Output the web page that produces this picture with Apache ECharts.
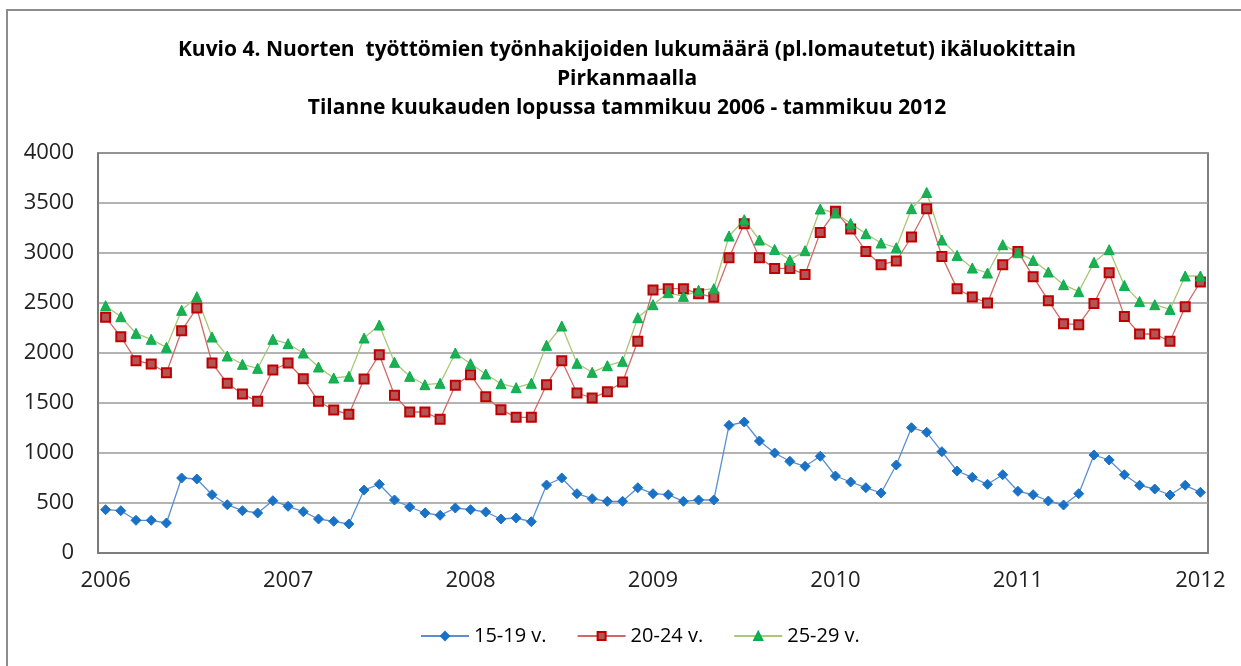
<!DOCTYPE html>
<html>
<head>
<meta charset="utf-8">
<script src="https://cdn.jsdelivr.net/npm/echarts@6/dist/echarts.min.js"></script>
<style>
html,body{margin:0;padding:0;background:#fff;}
#chart{width:1241px;height:666px;}
</style>
</head>
<body>
<div id="chart"></div>
<script>
// Tick labels (shown at each January)
const yearTicks = ['2006','2007','2008','2009','2010','2011','2012'];
// Monthly categories Jan 2006 .. Jan 2012
const months = [];
for (let y = 2006; y <= 2012; y++) {
  for (let m = 1; m <= 12; m++) {
    if (y === 2012 && m > 1) break;
    months.push(y + '-' + (m < 10 ? '0' + m : m));
  }
}
const seriesNames = ['15-19 v.', '20-24 v.', '25-29 v.'];
const age15_19 = [
  433, 423, 327, 327, 300, 750, 740, 583, 483, 423, 400, 523,
  467, 413, 340, 317, 290, 630, 687, 530, 460, 400, 377, 450,
  433, 410, 340, 350, 313, 680, 750, 593, 543, 517, 517, 653,
  593, 583, 517, 530, 530, 1277, 1310, 1120, 1000, 917, 867, 967,
  770, 710, 653, 600, 880, 1253, 1207, 1013, 820, 757, 687, 783,
  617, 583, 520, 480, 593, 980, 930, 783, 677, 640, 580, 677,
  607
];
const age20_24 = [
  2357, 2163, 1923, 1890, 1803, 2223, 2450, 1900, 1697, 1590, 1517, 1830,
  1900, 1743, 1517, 1430, 1387, 1740, 1983, 1577, 1410, 1410, 1337, 1677,
  1783, 1563, 1433, 1357, 1357, 1683, 1923, 1600, 1550, 1613, 1710, 2117,
  2630, 2643, 2643, 2593, 2557, 2953, 3293, 2953, 2846, 2846, 2786, 3206,
  3417, 3240, 3016, 2883, 2920, 3160, 3443, 2966, 2643, 2560, 2500, 2883,
  3016, 2763, 2523, 2293, 2283, 2496, 2803, 2366, 2190, 2190, 2117, 2463,
  2710
];
const age25_29 = [
  2473, 2363, 2197, 2137, 2057, 2427, 2563, 2160, 1970, 1887, 1847, 2137,
  2093, 2000, 1860, 1750, 1767, 2150, 2280, 1907, 1767, 1683, 1697, 2000,
  1893, 1790, 1693, 1653, 1697, 2077, 2270, 1897, 1807, 1873, 1917, 2353,
  2483, 2603, 2567, 2627, 2643, 3170, 3333, 3130, 3036, 2930, 3023, 3440,
  3400, 3296, 3193, 3100, 3053, 3443, 3606, 3130, 2976, 2850, 2800, 3083,
  3003, 2926, 2810, 2683, 2613, 2906, 3033, 2676, 2516, 2483, 2436, 2770,
  2770
];

const font = '"Open Sans", sans-serif';
const chart = echarts.init(document.getElementById('chart'), null, {renderer: 'canvas'});
chart.setOption({
  animation: false,
  backgroundColor: '#fff',
  graphic: [{
    type: 'rect', z: -10, silent: true,
    shape: {x: 7, y: 10, width: 1400, height: 800},
    style: {fill: 'none', stroke: '#8c8c8c', lineWidth: 2}
  }],
  title: {
    text: 'Kuvio 4. Nuorten  työttömien työnhakijoiden lukumäärä (pl.lomautetut) ikäluokittain\nPirkanmaalla\nTilanne kuukauden lopussa tammikuu 2006 - tammikuu 2012',
    left: 622, textAlign: 'center', top: 31,
    textStyle: {fontFamily: font, fontWeight: 'bold', fontSize: 21, lineHeight: 29, color: '#000'}
  },
  grid: {left: 98, right: 33, top: 153, bottom: 113, show: true, borderColor: '#555', borderWidth: 1.5},
  legend: {
    bottom: 15, left: 415, itemGap: 30, itemWidth: 48, itemHeight: 10,
    textStyle: {fontFamily: font, fontSize: 20, color: '#000'},
    data: seriesNames
  },
  xAxis: {
    type: 'category', data: months, boundaryGap: true,
    axisLine: {show: true, lineStyle: {color: '#777', width: 1.5}},
    axisTick: {show: false},
    splitLine: {show: false},
    axisLabel: {
      interval: function (i) { return i % 12 === 0; },
      formatter: function (v, i) { return yearTicks[Math.round(i / 12)] || v.slice(0, 4); },
      fontFamily: font, fontSize: 22, color: '#222', margin: 17
    }
  },
  yAxis: {
    type: 'value', min: 0, max: 4000, interval: 500,
    axisLine: {show: true, lineStyle: {color: '#777', width: 1.5}},
    axisTick: {show: false},
    splitLine: {lineStyle: {color: '#9a9a9a', width: 1.5}},
    axisLabel: {
      formatter: function (v) { return String(v); },
      fontFamily: font, fontSize: 22, color: '#222', margin: 24
    }
  },
  series: [
    {
      name: seriesNames[0], type: 'line', data: age15_19,
      symbol: 'diamond', symbolSize: 10,
      lineStyle: {color: '#5b8fcf', width: 1.3},
      itemStyle: {color: '#1a72c6', borderColor: '#1a72c6', borderWidth: 1}
    },
    {
      name: seriesNames[1], type: 'line', data: age20_24,
      symbol: 'rect', symbolSize: 9,
      lineStyle: {color: '#d06a68', width: 1.3},
      itemStyle: {color: '#b45454', borderColor: '#c00000', borderWidth: 2}
    },
    {
      name: seriesNames[2], type: 'line', data: age25_29,
      symbol: 'triangle', symbolSize: 10,
      lineStyle: {color: '#a9c774', width: 1.3},
      itemStyle: {color: '#1fae50', borderColor: '#00b050', borderWidth: 1}
    }
  ]
});
</script>
</body>
</html>
